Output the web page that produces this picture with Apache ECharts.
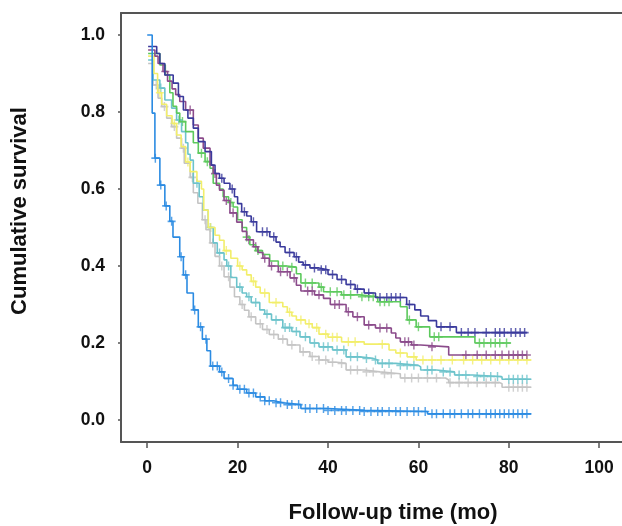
<!DOCTYPE html>
<html>
<head>
<meta charset="utf-8">
<script src="https://cdn.jsdelivr.net/npm/echarts@6/dist/echarts.min.js"></script>
<style>
html, body { margin: 0; padding: 0; background: #fff; }
#chart { width: 622px; height: 526px; }
</style>
</head>
<body>
<div id="chart"></div>
<script>
// tick labels
const xTicks = [0, 20, 40, 60, 80, 100];
const yTicks = [0, 0.2, 0.4, 0.6, 0.8, 1.0];

// Kaplan-Meier curves: time of each step, survival after it, censored times
const navyTime = [0.2, 2.1, 2.8, 3.9, 5.75, 6.9, 8, 9, 10.2, 11.3, 12.8, 14.2, 15, 16, 17, 18.3, 19.3, 20, 20.9, 22, 23, 24.2, 27.1, 28.5, 29.4, 30.5, 32.5, 33.5, 34.5, 36, 38, 40, 42, 44, 46, 48, 50.5, 57.4, 59.2, 60.5, 62.2, 64, 68.4, 84];
const navySurv = [0.97, 0.952, 0.926, 0.896, 0.875, 0.84, 0.805, 0.784, 0.758, 0.723, 0.697, 0.662, 0.64, 0.628, 0.615, 0.6, 0.58, 0.562, 0.541, 0.53, 0.515, 0.489, 0.476, 0.462, 0.45, 0.435, 0.424, 0.41, 0.403, 0.395, 0.39, 0.378, 0.365, 0.352, 0.34, 0.33, 0.318, 0.3, 0.286, 0.27, 0.258, 0.242, 0.227, 0.227];
const navyCensor = [16.5, 18.8, 21.5, 23.5, 25.5, 26.5, 28, 31.5, 33, 35, 37, 38.5, 39.5, 41, 43, 45, 46.5, 49, 51.5, 53, 54, 55, 56, 58, 65, 67, 69.5, 71, 72.5, 75, 77, 78, 79, 80.5, 81.5, 82.5, 83.5];

const greenTime = [0.2, 2.8, 4, 5, 5.7, 6.5, 7.2, 8.5, 10.2, 11.3, 12.8, 13.9, 14.6, 16, 16.8, 18, 19, 20, 21, 22, 22.7, 24, 25.5, 27.1, 29, 30.9, 33, 34, 38, 39, 43, 47, 51, 56, 57.5, 59.5, 62.5, 72.5, 80.5];
const greenSurv = [0.952, 0.922, 0.896, 0.85, 0.815, 0.797, 0.775, 0.749, 0.72, 0.693, 0.671, 0.654, 0.615, 0.6, 0.58, 0.565, 0.553, 0.52, 0.5, 0.475, 0.455, 0.44, 0.43, 0.413, 0.4, 0.397, 0.38, 0.356, 0.345, 0.333, 0.325, 0.32, 0.307, 0.294, 0.26, 0.242, 0.216, 0.2, 0.2];
const greenCensor = [7.8, 12, 13.3, 18.5, 22, 24.5, 30, 32, 35, 36.5, 38.5, 40.5, 42, 43.5, 45, 47.5, 49, 50, 51.5, 52.5, 53.5, 58, 60, 63.5, 64.5, 73.5, 74.5, 76, 77, 78, 79.5];

const purpleTime = [0.2, 1.7, 2.4, 3.5, 4.5, 5.5, 6.3, 7.2, 8.5, 10.2, 11.3, 12.4, 13.9, 14.6, 15.3, 16, 17, 18.3, 19.8, 21, 22, 23.5, 24.5, 25.6, 27, 29, 31.6, 33, 34, 37, 39, 40.5, 44, 45.5, 48, 50.5, 54, 55, 56, 58.5, 60.5, 66.7, 84];
const purpleSurv = [0.961, 0.945, 0.926, 0.905, 0.88, 0.86, 0.845, 0.827, 0.805, 0.766, 0.732, 0.706, 0.662, 0.64, 0.61, 0.597, 0.57, 0.538, 0.514, 0.49, 0.468, 0.45, 0.435, 0.42, 0.4, 0.385, 0.369, 0.35, 0.335, 0.325, 0.316, 0.3, 0.281, 0.268, 0.247, 0.239, 0.226, 0.213, 0.203, 0.195, 0.19, 0.169, 0.169];
const purpleCensor = [4, 9.5, 15, 17.5, 19, 22.5, 24, 26, 27.5, 29.5, 31, 32.5, 35.5, 36.5, 38, 41.5, 42.5, 44.5, 46.5, 49, 51.5, 53, 57, 57.8, 59, 63, 70.5, 73, 75, 77, 78.5, 80, 81, 82, 83, 84];

const yellowTime = [0.2, 1.5, 2.3, 3.2, 4.3, 5.5, 6.5, 7.5, 8.5, 9.5, 11, 12, 12.5, 13.5, 15, 16, 17, 18.5, 20, 21, 22, 23, 24, 25, 27, 30, 31, 32, 33, 35, 36.5, 38, 40, 43, 48, 53.5, 55, 57.5, 59.5, 85];
const yellowSurv = [0.945, 0.9, 0.85, 0.82, 0.79, 0.77, 0.74, 0.71, 0.67, 0.645, 0.62, 0.6, 0.545, 0.5, 0.48, 0.467, 0.44, 0.42, 0.4, 0.39, 0.377, 0.36, 0.345, 0.33, 0.305, 0.294, 0.28, 0.27, 0.26, 0.25, 0.24, 0.223, 0.215, 0.203, 0.197, 0.182, 0.174, 0.164, 0.156, 0.156];
const yellowCensor = [2.8, 6, 9, 14, 17.5, 20.5, 23.5, 26, 28.5, 31.5, 34, 35.8, 37.5, 39.5, 41, 42, 44.5, 46, 52, 56, 59, 61, 63, 65, 67.5, 70, 72, 74, 76, 78, 80, 82, 84];

const cyanTime = [0.2, 1.3, 2.8, 3.9, 5.4, 6.5, 7.6, 8.5, 9, 9.5, 10.2, 11.5, 12.4, 13.5, 14.6, 15.5, 17, 17.6, 18.5, 19.8, 21, 22, 23, 24.9, 26, 27.5, 30, 32, 33.8, 36, 38, 41, 44, 47, 50, 51, 55, 60, 60.5, 64, 68, 72, 78, 78.5, 85];
const cyanSurv = [0.935, 0.883, 0.862, 0.831, 0.81, 0.779, 0.749, 0.72, 0.69, 0.675, 0.615, 0.58, 0.545, 0.5, 0.46, 0.434, 0.416, 0.4, 0.37, 0.345, 0.33, 0.32, 0.305, 0.286, 0.275, 0.26, 0.24, 0.23, 0.216, 0.2, 0.19, 0.182, 0.164, 0.16, 0.156, 0.147, 0.142, 0.138, 0.13, 0.125, 0.117, 0.113, 0.112, 0.106, 0.106];
const cyanCensor = [3, 7, 11, 14, 16, 18, 20.5, 22.5, 24, 26.5, 28.5, 30.5, 31.5, 33, 35, 37, 39, 40, 42, 43.5, 45, 46.5, 48.5, 50.5, 52, 53.5, 56, 57.5, 59, 62, 63, 65.5, 67, 69, 70.5, 73, 74.5, 76, 77.5, 80, 81, 82, 83, 84];

const grayTime = [0.2, 1.3, 2.4, 3.2, 4.3, 5.4, 6.5, 7.6, 8.2, 9.5, 10.2, 11.2, 12.2, 13, 13.9, 15, 16, 17, 18.3, 19.3, 20.5, 21.5, 22.5, 24, 25.5, 27, 29, 31, 33.8, 36, 38, 40, 42, 44, 48, 51.5, 56, 66, 66.7, 78, 78.5, 85];
const graySurv = [0.926, 0.87, 0.836, 0.814, 0.784, 0.762, 0.732, 0.706, 0.667, 0.63, 0.59, 0.563, 0.52, 0.494, 0.46, 0.425, 0.4, 0.372, 0.345, 0.32, 0.3, 0.285, 0.268, 0.25, 0.235, 0.222, 0.21, 0.195, 0.177, 0.165, 0.156, 0.15, 0.147, 0.13, 0.125, 0.12, 0.109, 0.104, 0.097, 0.094, 0.085, 0.085];
const grayCensor = [2, 3.8, 6, 8, 10, 12.8, 14.5, 16.5, 18, 21, 23, 25, 26.5, 28, 30, 32, 34.5, 36.5, 38, 39.5, 41, 43, 45, 46.5, 48.5, 50, 52.5, 54, 57, 58.5, 60, 62, 64, 67, 69, 71, 73, 75, 77, 80, 81, 82, 83, 84];

const blueTime = [0, 1.1, 1.7, 2.8, 3.9, 5, 5.7, 7.2, 8, 8.8, 10.2, 11.3, 12.2, 13.2, 14, 16, 17, 19, 20, 22, 24, 26, 28, 30, 34, 40, 48, 62, 85];
const blueSurv = [1.0, 0.797, 0.68, 0.61, 0.556, 0.516, 0.475, 0.424, 0.377, 0.33, 0.286, 0.242, 0.21, 0.18, 0.14, 0.125, 0.108, 0.09, 0.08, 0.07, 0.06, 0.05, 0.045, 0.04, 0.03, 0.025, 0.022, 0.016, 0.016];
const blueCensor = [1.8, 3, 4.2, 5.4, 7.5, 8.5, 10.5, 11.8, 13, 14.5, 15.5, 16.5, 18, 19, 20.5, 21.5, 22.5, 23.5, 25, 26, 27, 28.5, 29.5, 31, 32, 33.5, 35, 36, 37.5, 39, 40, 41.5, 43, 44, 45.5, 47, 48, 49.5, 51, 52, 53.5, 55, 56, 57.5, 59, 60, 61.5, 63, 64, 65.5, 67, 68, 69.5, 71, 72, 73.5, 75, 76, 77, 78, 79, 80, 81, 82, 83, 84];

const curves = [
  { name: 'Gray', color: '#c4c4c4', time: grayTime, surv: graySurv, censor: grayCensor },
  { name: 'Cyan', color: '#6cc3cb', time: cyanTime, surv: cyanSurv, censor: cyanCensor },
  { name: 'Yellow', color: '#f2ee6a', time: yellowTime, surv: yellowSurv, censor: yellowCensor },
  { name: 'Green', color: '#5cc95c', time: greenTime, surv: greenSurv, censor: greenCensor },
  { name: 'Purple', color: '#8b4b8b', time: purpleTime, surv: purpleSurv, censor: purpleCensor },
  { name: 'Navy', color: '#3a3a9c', time: navyTime, surv: navySurv, censor: navyCensor },
  { name: 'Blue', color: '#2b8be2', time: blueTime, surv: blueSurv, censor: blueCensor }
];

// survival value of a step curve at time t
function survAt(time, surv, t) {
  let v = surv[0];
  for (let i = 0; i < time.length; i++) {
    if (time[i] <= t) v = surv[i];
  }
  return v;
}

const plusMark = 'path://M4.1,0H5.9V4.1H10V5.9H5.9V10H4.1V5.9H0V4.1H4.1Z';

const series = [];
curves.forEach(c => {
  series.push({
    name: c.name,
    type: 'line',
    step: 'end',
    showSymbol: false,
    lineStyle: { color: c.color, width: 1.6 },
    data: c.time.map((t, i) => [t, c.surv[i]])
  });
  series.push({
    name: c.name + ' censored',
    type: 'scatter',
    symbol: plusMark,
    symbolSize: [8, 9],
    itemStyle: { color: c.color },
    data: c.censor.map(t => [t, survAt(c.time, c.surv, t)])
  });
});

const labelFont = { fontFamily: 'Liberation Sans, Arial, sans-serif', fontWeight: 'bold', fontSize: 17.5, color: '#111' };
const frameLine = { color: '#555', width: 2 };

const myChart = echarts.init(document.getElementById('chart'));
const option = {
  animation: false,
  backgroundColor: '#fff',
  grid: { left: 121, top: 13, right: 0, bottom: 84 },
  xAxis: [
    {
      type: 'value',
      min: -5.8,
      max: 105.04,
      splitLine: { show: false },
      axisLine: { show: true, onZero: false, lineStyle: frameLine },
      axisTick: { show: true, length: 6, customValues: xTicks, lineStyle: { color: '#555', width: 1.5 } },
      axisLabel: Object.assign({ margin: 17, customValues: xTicks }, labelFont)
    },
    {
      // top frame line only
      type: 'value',
      position: 'top',
      min: -5.8,
      max: 105.04,
      splitLine: { show: false },
      axisLine: { show: true, onZero: false, lineStyle: frameLine },
      axisTick: { show: false },
      axisLabel: { show: false }
    }
  ],
  yAxis: {
    type: 'value',
    min: -0.0571,
    max: 1.057,
    splitLine: { show: false },
    axisLine: { show: true, onZero: false, lineStyle: frameLine },
    axisTick: { show: true, length: 3, customValues: yTicks, lineStyle: { color: '#555', width: 1.5 } },
    axisLabel: Object.assign({ margin: 16, customValues: yTicks, formatter: v => v.toFixed(1) }, labelFont)
  },
  graphic: [
    {
      type: 'text',
      x: 20, y: 211,
      rotation: Math.PI / 2,
      style: { text: 'Cumulative survival', align: 'center', verticalAlign: 'middle', font: 'bold 22px "Liberation Sans", Arial, sans-serif', fill: '#111' }
    },
    {
      type: 'text',
      x: 393, y: 513,
      style: { text: 'Follow-up time (mo)', align: 'center', verticalAlign: 'middle', font: 'bold 22px "Liberation Sans", Arial, sans-serif', fill: '#111' }
    }
  ],
  series: series
};
myChart.setOption(option);
</script>
</body>
</html>
